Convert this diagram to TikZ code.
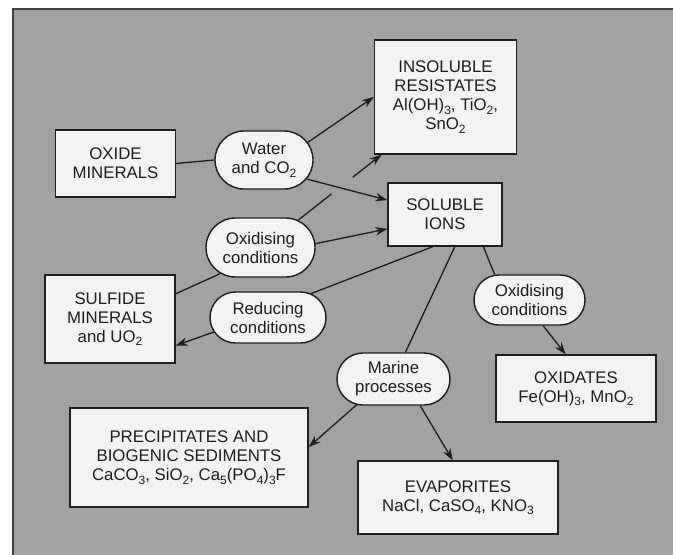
\documentclass[tikz,border=0pt]{standalone}
\usepackage{fontspec}
\setmainfont{Liberation Sans}
\usetikzlibrary{arrows.meta,shapes.misc,calc}
\definecolor{bggray}{HTML}{A2A2A2}
\definecolor{boxfill}{HTML}{F3F3F3}
\definecolor{inkc}{HTML}{1E1E1E}
\newcommand\sbs[1]{\raisebox{-0.4ex}{\fontsize{12}{12}\selectfont #1}}
\begin{document}
\begin{tikzpicture}[x=1pt,y=-1pt,
  every node/.style={font=\fontsize{16.8}{19}\selectfont, text=inkc, align=center, inner sep=0pt},
  rbox/.style={draw=inkc, line width=1.4pt, fill=boxfill, rectangle},
  pill/.style={draw=inkc, line width=1.4pt, fill=boxfill, rounded rectangle},
  conn/.style={draw=inkc, line width=1.3pt},
  arr/.style={conn, -{Stealth[length=12pt,width=8.5pt,inset=4pt]}}]
\useasboundingbox (0,0) rectangle (673,555);
\fill[white] (0,0) rectangle (673,555);
\fill[bggray] (13,9) rectangle (690,570);
\draw[draw=inkc!85, line width=1.6pt] (13,570) -- (13,9) -- (690,9);

% boxes
\node[rbox, minimum width=120pt, minimum height=67pt] (oxide) at (115.5,163.5) {OXIDE\\MINERALS};
\node[rbox, minimum width=142pt, minimum height=114pt] (insol) at (445.5,97) {INSOLUBLE\\RESISTATES\\Al(OH)\sbs{3}, TiO\sbs{2},\\SnO\sbs{2}};
\node[rbox, minimum width=114pt, minimum height=63pt] (soluble) at (445,214.5) {SOLUBLE\\IONS};
\node[rbox, minimum width=130pt, minimum height=88pt] (sulfide) at (110,319) {SULFIDE\\MINERALS\\and UO\sbs{2}};
\node[rbox, minimum width=160pt, minimum height=67pt] (oxidates) at (576,388.5) {OXIDATES\\Fe(OH)\sbs{3}, MnO\sbs{2}};
\node[rbox, minimum width=238pt, minimum height=99pt] (precip) at (189,457.5) {PRECIPITATES AND\\BIOGENIC SEDIMENTS\\CaCO\sbs{3}, SiO\sbs{2}, Ca\sbs{5}(PO\sbs{4})\sbs{3}F};
\node[rbox, minimum width=200pt, minimum height=73pt] (evap) at (458,497.5) {EVAPORITES\\NaCl, CaSO\sbs{4}, KNO\sbs{3}};

% pills
\node[pill, minimum width=98pt, minimum height=58pt] (water) at (264,160) {Water\\and CO\sbs{2}};
\node[pill, minimum width=109pt, minimum height=59pt] (oxl) at (260.5,247.5) {Oxidising\\conditions};
\node[pill, minimum width=116pt, minimum height=51pt] (reducing) at (268,317.5) {Reducing\\conditions};
\node[pill, minimum width=111pt, minimum height=50pt] (oxr) at (529.5,300) {Oxidising\\conditions};
\node[pill, minimum width=113pt, minimum height=52pt] (marine) at (393.5,379) {Marine\\processes};

% connectors
\draw[conn] (oxide.east) -- (water.west);
\draw[arr] (water.22) -- (insol.west);
\draw[arr] (water.-24) -- (soluble.166);
\draw[conn] (oxl.36) -- ($(oxl.36)!0.40!(insol.222)$);
\draw[arr] ($(oxl.36)!0.655!(insol.222)$) -- (insol.222);
\draw[arr] (oxl.4) -- (soluble.194);
\draw[conn] (sulfide.21) -- (oxl.213);
\draw[conn] (soluble.249) -- (reducing.29);
\draw[arr] (reducing.195) -- (sulfide.338);
\draw[conn] (soluble.287) -- (marine.66);
\draw[arr] (marine.215) -- (precip.5);
\draw[arr] (marine.315) -- (evap.98);
\draw[conn] (soluble.320) -- (oxr.144);
\draw[arr] (oxr.298) -- (oxidates.107);
\end{tikzpicture}
\end{document}
